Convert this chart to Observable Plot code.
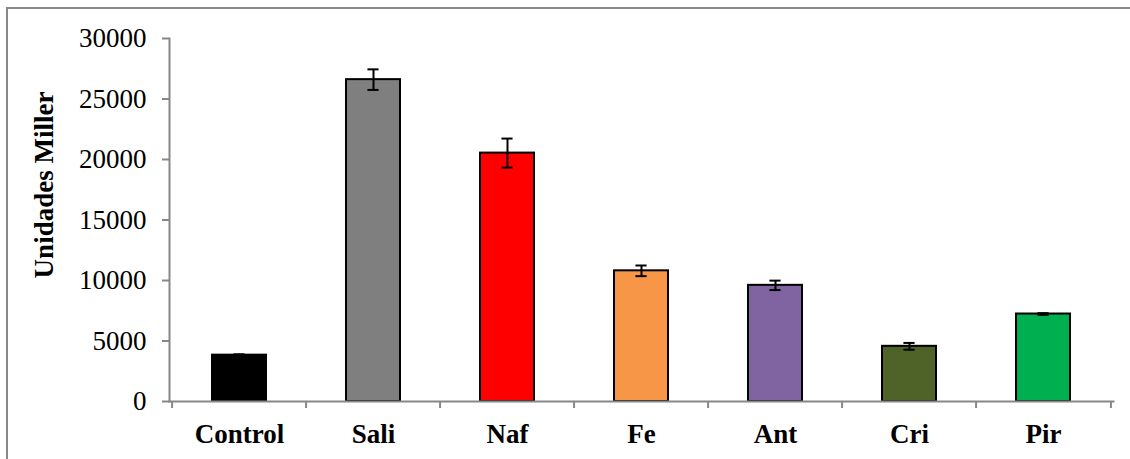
<!DOCTYPE html>
<html><head><meta charset="utf-8">
<script src="https://cdn.jsdelivr.net/npm/d3@7"></script>
<script src="https://cdn.jsdelivr.net/npm/@observablehq/plot@0.6"></script>
<style>
html,body{margin:0;padding:0;background:#fff;overflow:hidden}
#wrap{position:relative;width:1130px;height:459px}
#border{position:absolute;left:6px;top:7px;width:1200px;height:600px;border:2px solid #8a8a8a;box-sizing:border-box}
#chart{position:absolute;left:0;top:0}
</style></head><body>
<div id="wrap"><div id="border"></div><div id="chart"></div></div>
<script>
const categories = ["Control", "Sali", "Naf", "Fe", "Ant", "Cri", "Pir"];
const values = [3830, 26600, 20530, 10800, 9600, 4560, 7230];
const errors = [70, 850, 1200, 440, 390, 280, 70];
const colors = ["#000000", "#7f7f7f", "#ff0000", "#f79646", "#8064a2", "#4f6228", "#00b050"];
const yTicks = [0, 5000, 10000, 15000, 20000, 25000, 30000];
const yLabel = "Unidades Miller";

const data = categories.map((c, i) => ({cat: c, value: values[i], err: errors[i], color: colors[i]}));

const W = 1130, H = 459, ML = 169, MR = 17, MT = 38, MB = 58;
const step = (W - ML - MR) / categories.length;
const barInset = 40;
const capHalf = 6;
const axisColor = "#878787";
const font = "'Liberation Serif', 'Times New Roman', serif";

const chart = Plot.plot({
  width: W, height: H,
  marginLeft: ML, marginRight: MR, marginTop: MT, marginBottom: MB,
  style: {fontFamily: font, fontSize: "27px", color: "#000", background: "transparent", overflow: "visible"},
  x: {domain: categories, padding: 0, axis: null},
  y: {domain: [0, 30000], axis: null},
  marks: [
    Plot.barY(data, {x: "cat", y: "value", fill: d => d.color, stroke: "#000", strokeWidth: 2, insetLeft: barInset, insetRight: barInset}),
    Plot.ruleX(data, {x: "cat", y1: d => d.value - d.err, y2: d => d.value + d.err, stroke: "#000", strokeWidth: 2}),
    Plot.tickY(data, {x: "cat", y: d => d.value + d.err, stroke: "#000", strokeWidth: 2, insetLeft: step / 2 - capHalf, insetRight: step / 2 - capHalf}),
    Plot.tickY(data, {x: "cat", y: d => d.value - d.err, stroke: "#000", strokeWidth: 2, insetLeft: step / 2 - capHalf, insetRight: step / 2 - capHalf}),
    Plot.frame({anchor: "left", stroke: axisColor, strokeWidth: 2}),
    Plot.frame({anchor: "bottom", stroke: axisColor, strokeWidth: 2}),
    Plot.axisY({ticks: yTicks, tickSize: 7, tickPadding: 16, stroke: axisColor, strokeWidth: 2, tickFormat: d => String(d), fontSize: 27, fill: "#000", label: null}),
    Plot.axisX({ticks: categories, tickSize: 7, dx: -step / 2, text: null, stroke: axisColor, strokeWidth: 2, label: null}),
    Plot.axisX({ticks: categories.slice(-1), tickSize: 7, dx: step / 2, text: null, stroke: axisColor, strokeWidth: 2, label: null}),
    Plot.axisX({ticks: categories, tickSize: 0, tickPadding: 22, fontSize: 27, fontWeight: "bold", fill: "#000", label: null}),
    Plot.text([yLabel], {frameAnchor: "left", rotate: -90, dx: -125, dy: -35, fontSize: 27, fontWeight: "bold", fill: "#000", textAnchor: "middle", lineAnchor: "middle"})
  ]
});
document.getElementById("chart").appendChild(chart);
</script>
</body></html>
